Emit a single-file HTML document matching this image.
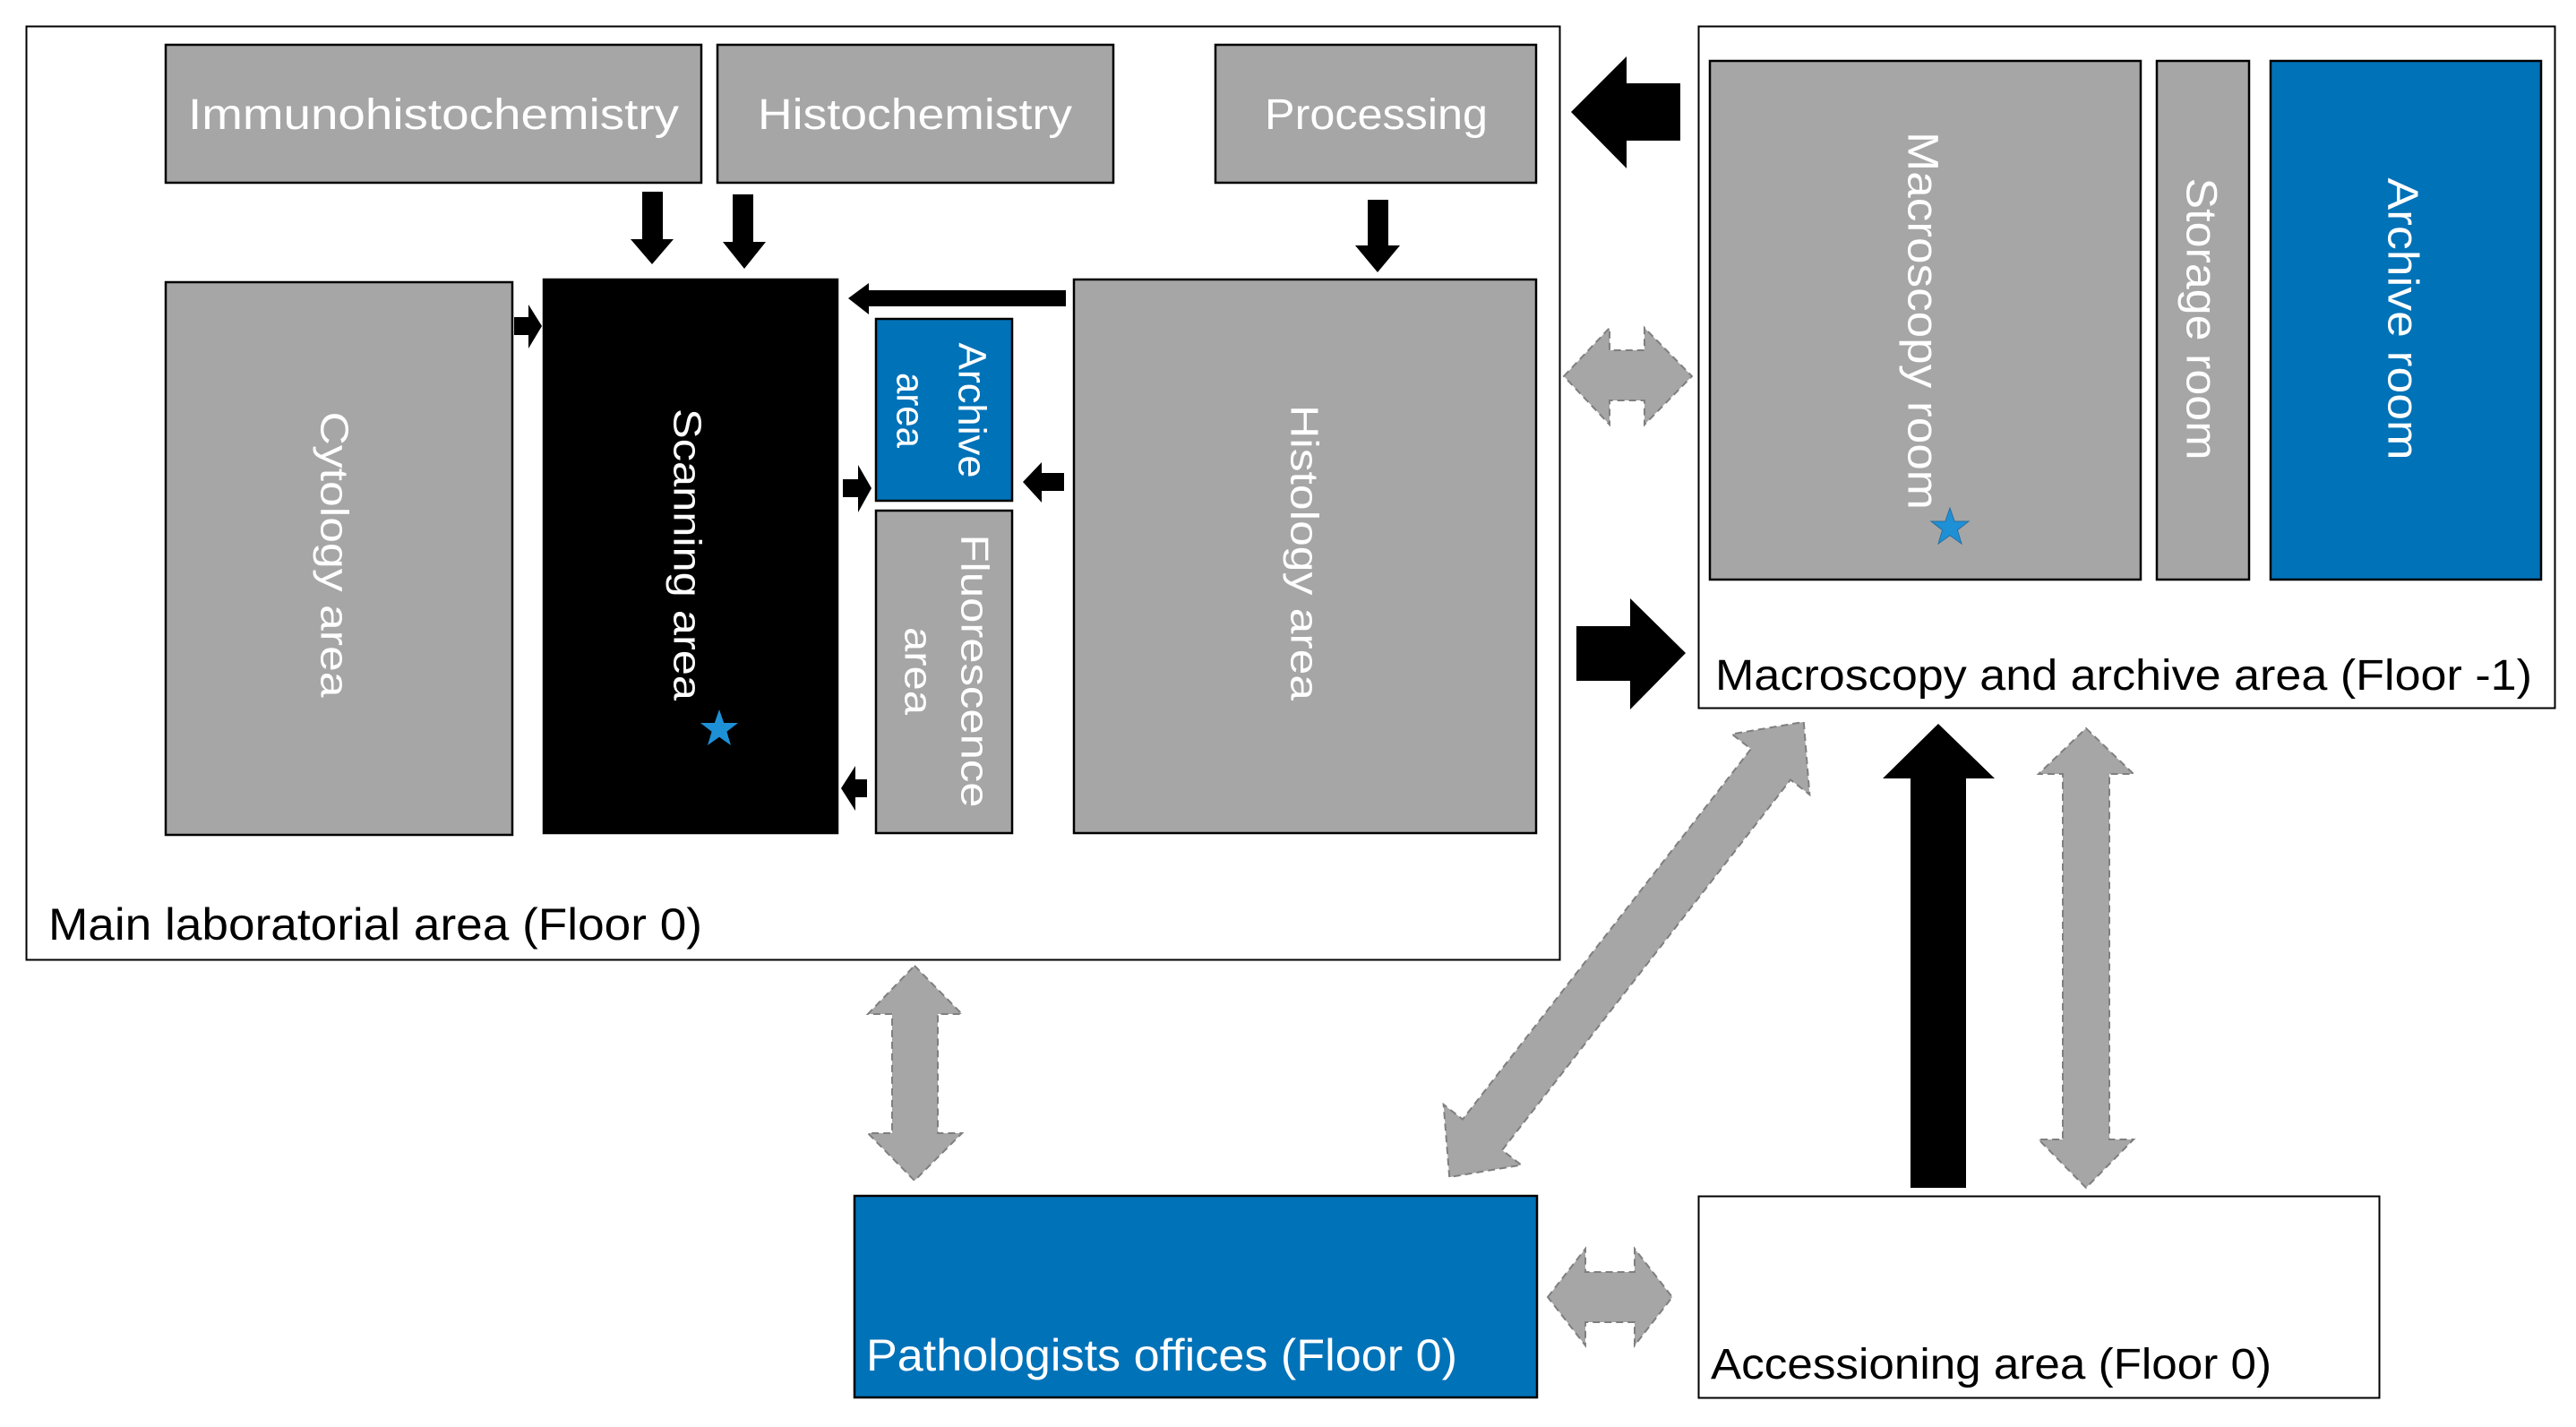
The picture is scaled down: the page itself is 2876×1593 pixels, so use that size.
<!DOCTYPE html>
<html><head><meta charset="utf-8"><style>
html,body{margin:0;padding:0;background:#fff;}
svg{display:block;}
text{font-family:"Liberation Sans",sans-serif;}
</style></head><body>
<svg width="2876" height="1593" viewBox="0 0 2876 1593" xmlns="http://www.w3.org/2000/svg">
<defs>
<polygon id="star" points="0,-22 5.2,-7 21,-7 8.4,2.7 13,18 0,8.7 -13,18 -8.4,2.7 -21,-7 -5.2,-7"/>
</defs>
<rect width="2876" height="1593" fill="#fff"/>
<!-- Main lab box -->
<rect x="29.5" y="29.5" width="1712" height="1042" fill="#fff" stroke="#000" stroke-width="2"/>
<g stroke="#000" stroke-width="2.5">
<rect x="185" y="50" width="598" height="154" fill="#a6a6a6"/>
<rect x="801" y="50" width="442" height="154" fill="#a6a6a6"/>
<rect x="1357" y="50" width="358" height="154" fill="#a6a6a6"/>
<rect x="185" y="315" width="387" height="617" fill="#a6a6a6"/>
<rect x="607" y="312" width="328" height="618" fill="#000"/>
<rect x="978" y="356" width="152" height="203" fill="#0072b8"/>
<rect x="978" y="570" width="152" height="360" fill="#a6a6a6"/>
<rect x="1199" y="312" width="516" height="618" fill="#a6a6a6"/>
</g>
<g fill="#fff" font-size="48">
<text x="210" y="144" textLength="548" lengthAdjust="spacingAndGlyphs">Immunohistochemistry</text>
<text x="846" y="144" textLength="351" lengthAdjust="spacingAndGlyphs">Histochemistry</text>
<text x="1412" y="144" textLength="249" lengthAdjust="spacingAndGlyphs">Processing</text>
</g>
<g fill="#fff" font-size="44" text-anchor="middle" dominant-baseline="central">
<text transform="translate(373,619) rotate(90)" textLength="319" lengthAdjust="spacingAndGlyphs">Cytology area</text>
<text transform="translate(767,619) rotate(90)" textLength="326" lengthAdjust="spacingAndGlyphs">Scanning area</text>
<text transform="translate(1085,458) rotate(90)" textLength="151" lengthAdjust="spacingAndGlyphs">Archive</text>
<text transform="translate(1016,458) rotate(90)" textLength="84" lengthAdjust="spacingAndGlyphs">area</text>
<text transform="translate(1088,749) rotate(90)" textLength="305" lengthAdjust="spacingAndGlyphs">Fluorescence</text>
<text transform="translate(1025,749) rotate(90)" textLength="98" lengthAdjust="spacingAndGlyphs">area</text>
<text transform="translate(1456,617) rotate(90)" textLength="330" lengthAdjust="spacingAndGlyphs">Histology area</text>
</g>
<text x="54" y="1049" font-size="50" fill="#000" textLength="730" lengthAdjust="spacingAndGlyphs">Main laboratorial area (Floor 0)</text>
<use href="#star" transform="translate(803,814)" fill="#1e90d6"/>

<!-- small black arrows -->
<g fill="#000">
<polygon points="717,214 740,214 740,267 752,267 728,295 704,267 717,267"/>
<polygon points="818,217 841,217 841,270 855,270 831,300 807,270 818,270"/>
<polygon points="1527,223 1550,223 1550,274 1563,274 1538,304 1513,274 1527,274"/>
<polygon points="1190,324 1190,342 970,342 970,351 947,333 970,316 970,324"/>
<polygon points="574,354 590,354 590,340 605,364 590,389 590,374 574,374"/>
<polygon points="941,535 958,535 958,519 973,545 958,572 958,555 941,555"/>
<polygon points="1188,528 1163,528 1163,516 1142,538 1163,561 1163,548 1188,548"/>
<polygon points="968,870 955,870 955,855 939,880 955,905 955,890 968,890"/>
<!-- big arrows -->
<polygon points="1876,93 1816,93 1816,63 1754,125 1816,188 1816,157 1876,157"/>
<polygon points="1760,699 1820,699 1820,668 1882,729 1820,792 1820,760 1760,760"/>
<polygon points="2133,1326 2195,1326 2195,869 2227,869 2164,808 2102,869 2133,869"/>
</g>

<!-- Macro box -->
<rect x="1896.5" y="29.5" width="956" height="761" fill="#fff" stroke="#000" stroke-width="2"/>
<g stroke="#000" stroke-width="2.5">
<rect x="1909" y="68" width="481" height="579" fill="#a6a6a6"/>
<rect x="2408" y="68" width="103" height="579" fill="#a6a6a6"/>
<rect x="2535" y="68" width="302" height="579" fill="#0072b8"/>
</g>
<g fill="#fff" font-size="48" text-anchor="middle" dominant-baseline="central">
<text transform="translate(2146,358) rotate(90)" textLength="422" lengthAdjust="spacingAndGlyphs">Macroscopy room</text>
<text transform="translate(2457,356) rotate(90)" textLength="315" lengthAdjust="spacingAndGlyphs">Storage room</text>
<text transform="translate(2682,356) rotate(90)" textLength="315" lengthAdjust="spacingAndGlyphs">Archive room</text>
</g>
<use href="#star" transform="translate(2177,589)" fill="#1e90d6" stroke="#2a6fa0" stroke-width="1"/>
<text x="1915" y="770" font-size="48" fill="#000" textLength="912" lengthAdjust="spacingAndGlyphs">Macroscopy and archive area (Floor -1)</text>

<!-- bottom boxes -->
<rect x="954" y="1335" width="762" height="225" fill="#0072b8" stroke="#000" stroke-width="2.5"/>
<text x="967" y="1530" font-size="50" fill="#fff" textLength="660" lengthAdjust="spacingAndGlyphs">Pathologists offices (Floor 0)</text>
<rect x="1896.5" y="1335.5" width="760" height="225" fill="#fff" stroke="#000" stroke-width="2"/>
<text x="1910" y="1539" font-size="48" fill="#000" textLength="626" lengthAdjust="spacingAndGlyphs">Accessioning area (Floor 0)</text>

<!-- gray dashed double arrows -->
<g fill="#a6a6a6" stroke="#7f7f7f" stroke-width="2" stroke-dasharray="8,5">
<polygon points="1746,420 1797,366 1797,391 1836,391 1836,366 1889,420 1836,474 1836,447 1797,447 1797,474"/>
<polygon points="1728,1448 1770,1394 1770,1420 1825,1420 1825,1394 1867,1448 1825,1502 1825,1476 1770,1476 1770,1502"/>
<polygon points="1021,1078 1074,1132 1047,1132 1047,1265 1074,1265 1021,1318 969,1265 996,1265 996,1132 969,1132"/>
<polygon points="2329,813 2382,864 2355,864 2355,1272 2382,1272 2329,1326 2276,1272 2303,1272 2303,864 2276,864"/>
<polygon transform="translate(1816,1060) rotate(-52.1)" points="-322,0 -262,-55 -262,-28 262,-28 262,-55 322,0 262,55 262,28 -262,28 -262,55"/>
</g>
</svg>
</body></html>
